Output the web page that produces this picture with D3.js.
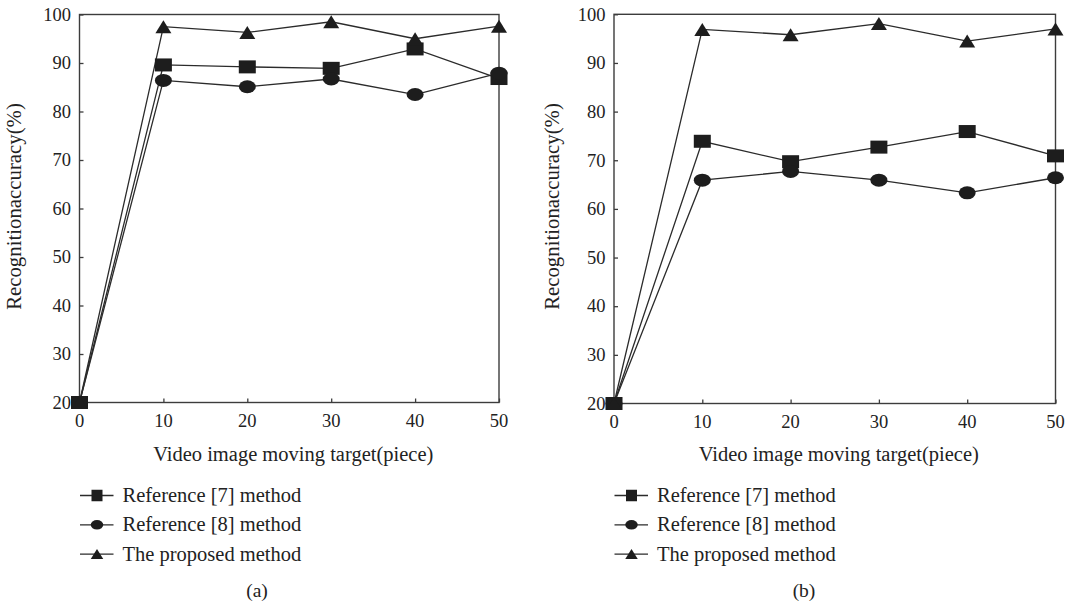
<!DOCTYPE html>
<html>
<head>
<meta charset="utf-8">
<script src="https://cdn.jsdelivr.net/npm/d3@7"></script>
<style>
  html, body { margin: 0; padding: 0; background: #fff; }
  svg { display: block; font-family: "Liberation Serif", "Times New Roman", serif; }
</style>
</head>
<body>
<div id="chart"></div>
<script>
// Données
const xValues = [0, 10, 20, 30, 40, 50];
const xTicks = [0, 10, 20, 30, 40, 50];
const yTicks = [20, 30, 40, 50, 60, 70, 80, 90, 100];
const seriesNames = ["Reference [7] method", "Reference [8] method", "The proposed method"];
const seriesShapes = ["square", "circle", "triangle"];

const ref7A = [20, 89.6, 89.2, 88.9, 92.9, 86.8];
const ref8A = [20, 86.4, 85.1, 86.7, 83.5, 87.9];
const propA = [20, 97.5, 96.3, 98.5, 95.0, 97.6];

const ref7B = [20, 73.9, 69.7, 72.7, 75.9, 70.9];
const ref8B = [20, 65.9, 67.7, 65.9, 63.3, 66.4];
const propB = [20, 96.9, 95.8, 98.1, 94.5, 97.0];

const X_TITLE = "Video image moving target(piece)";
const Y_TITLE = "Recognitionaccuracy(%)";

const WIDTH = 1074, HEIGHT = 610;
const LINE_COLOR = "#2b2b2b";
const MARK_COLOR = "#1d1d1d";
const AXIS_COLOR = "#3c3c3c";

const svg = d3.select("#chart").append("svg")
    .attr("width", WIDTH)
    .attr("height", HEIGHT);

const panels = [
    { label: "(a)", series: [ref7A, ref8A, propA], x0: 79.5, x1: 499, yTop: 14.5, yBot: 402.5, yTitleX: 14, legendX: 80, captionX: 257 },
    { label: "(b)", series: [ref7B, ref8B, propB], x0: 614, x1: 1055.5, yTop: 14.3, yBot: 403.5, yTitleX: 552, legendX: 614.5, captionX: 804 }
];

// Marqueur (forme légèrement aplatie, comme dans la figure)
function drawMarker(g, shape, cx, cy, w, h) {
    if (shape === "square") {
        g.append("rect")
            .attr("x", cx - w / 2).attr("y", cy - h / 2)
            .attr("width", w).attr("height", h)
            .attr("fill", MARK_COLOR);
    } else if (shape === "circle") {
        g.append("ellipse")
            .attr("cx", cx).attr("cy", cy)
            .attr("rx", w / 2).attr("ry", h / 2)
            .attr("fill", MARK_COLOR);
    } else {
        g.append("path")
            .attr("d", `M${cx},${cy - h / 2}L${cx + w / 2},${cy + h / 2}L${cx - w / 2},${cy + h / 2}Z`)
            .attr("fill", MARK_COLOR);
    }
}

panels.forEach(p => {
    const g = svg.append("g");

    const xScale = d3.scaleLinear().domain([0, 50]).range([p.x0, p.x1]);
    const yScale = d3.scaleLinear().domain([20, 100]).range([p.yBot, p.yTop]);

    // Axe X (ticks vers l'intérieur)
    const xAxis = g.append("g")
        .attr("transform", `translate(0,${p.yBot})`)
        .call(d3.axisTop(xScale).tickValues(xTicks).tickSize(4).tickFormat(""));
    xAxis.select(".domain").remove();
    xAxis.selectAll("line").attr("stroke", AXIS_COLOR).attr("stroke-width", 1.3);

    g.selectAll(".xlab")
        .data(xTicks)
        .join("text")
        .attr("class", "xlab")
        .attr("x", d => xScale(d))
        .attr("y", p.yBot + 24.5)
        .attr("text-anchor", "middle")
        .attr("font-size", 18.5)
        .attr("fill", "#222")
        .text(d => d);

    // Axe Y (ticks vers l'intérieur)
    const yAxis = g.append("g")
        .attr("transform", `translate(${p.x0},0)`)
        .call(d3.axisRight(yScale).tickValues(yTicks).tickSize(4).tickFormat(""));
    yAxis.select(".domain").remove();
    yAxis.selectAll("line").attr("stroke", AXIS_COLOR).attr("stroke-width", 1.3);

    g.selectAll(".ylab")
        .data(yTicks)
        .join("text")
        .attr("class", "ylab")
        .attr("x", p.x0 - 8.5)
        .attr("y", d => yScale(d))
        .attr("dy", "0.34em")
        .attr("text-anchor", "end")
        .attr("font-size", 18.5)
        .attr("fill", "#222")
        .text(d => d);

    // Cadre
    g.append("rect")
        .attr("x", p.x0).attr("y", p.yTop)
        .attr("width", p.x1 - p.x0).attr("height", p.yBot - p.yTop)
        .attr("fill", "none")
        .attr("stroke", AXIS_COLOR)
        .attr("stroke-width", 1.4);

    // Titres des axes
    g.append("text")
        .attr("x", (p.x0 + p.x1) / 2 + 4)
        .attr("y", 460.5)
        .attr("text-anchor", "middle")
        .attr("font-size", 20.5)
        .attr("fill", "#222")
        .text(X_TITLE);

    g.append("text")
        .attr("transform", `translate(${p.yTitleX + 7},${206.5}) rotate(-90)`)
        .attr("text-anchor", "middle")
        .attr("font-size", 20.8)
        .attr("fill", "#222")
        .text(Y_TITLE);

    // Courbes
    const line = d3.line()
        .x((d, i) => xScale(xValues[i]))
        .y(d => yScale(d));

    p.series.forEach(values => {
        g.append("path")
            .datum(values)
            .attr("d", line)
            .attr("fill", "none")
            .attr("stroke", LINE_COLOR)
            .attr("stroke-width", 1.3);
    });

    p.series.forEach((values, s) => {
        values.forEach((v, i) => {
            drawMarker(g, seriesShapes[s], xScale(xValues[i]), yScale(v),
                seriesShapes[s] === "triangle" ? 16 : 17, 13);
        });
    });

    // Légende
    seriesNames.forEach((name, s) => {
        const ly = 495.5 + s * 29.3;
        g.append("line")
            .attr("x1", p.legendX).attr("x2", p.legendX + 33.5)
            .attr("y1", ly).attr("y2", ly)
            .attr("stroke", LINE_COLOR)
            .attr("stroke-width", 1.3);
        const lw = seriesShapes[s] === "square" ? 11 : 12.5;
        const lh = seriesShapes[s] === "square" ? 11.5 : (seriesShapes[s] === "circle" ? 9.5 : 10);
        drawMarker(g, seriesShapes[s], p.legendX + 17, ly, lw, lh);
        g.append("text")
            .attr("x", p.legendX + 42.5)
            .attr("y", ly + 6.5)
            .attr("font-size", 20.5)
            .attr("fill", "#222")
            .text(name);
    });

    // Légende du panneau
    g.append("text")
        .attr("x", p.captionX)
        .attr("y", 597)
        .attr("text-anchor", "middle")
        .attr("font-size", 19.5)
        .attr("fill", "#222")
        .text(p.label);
});
</script>
</body>
</html>
